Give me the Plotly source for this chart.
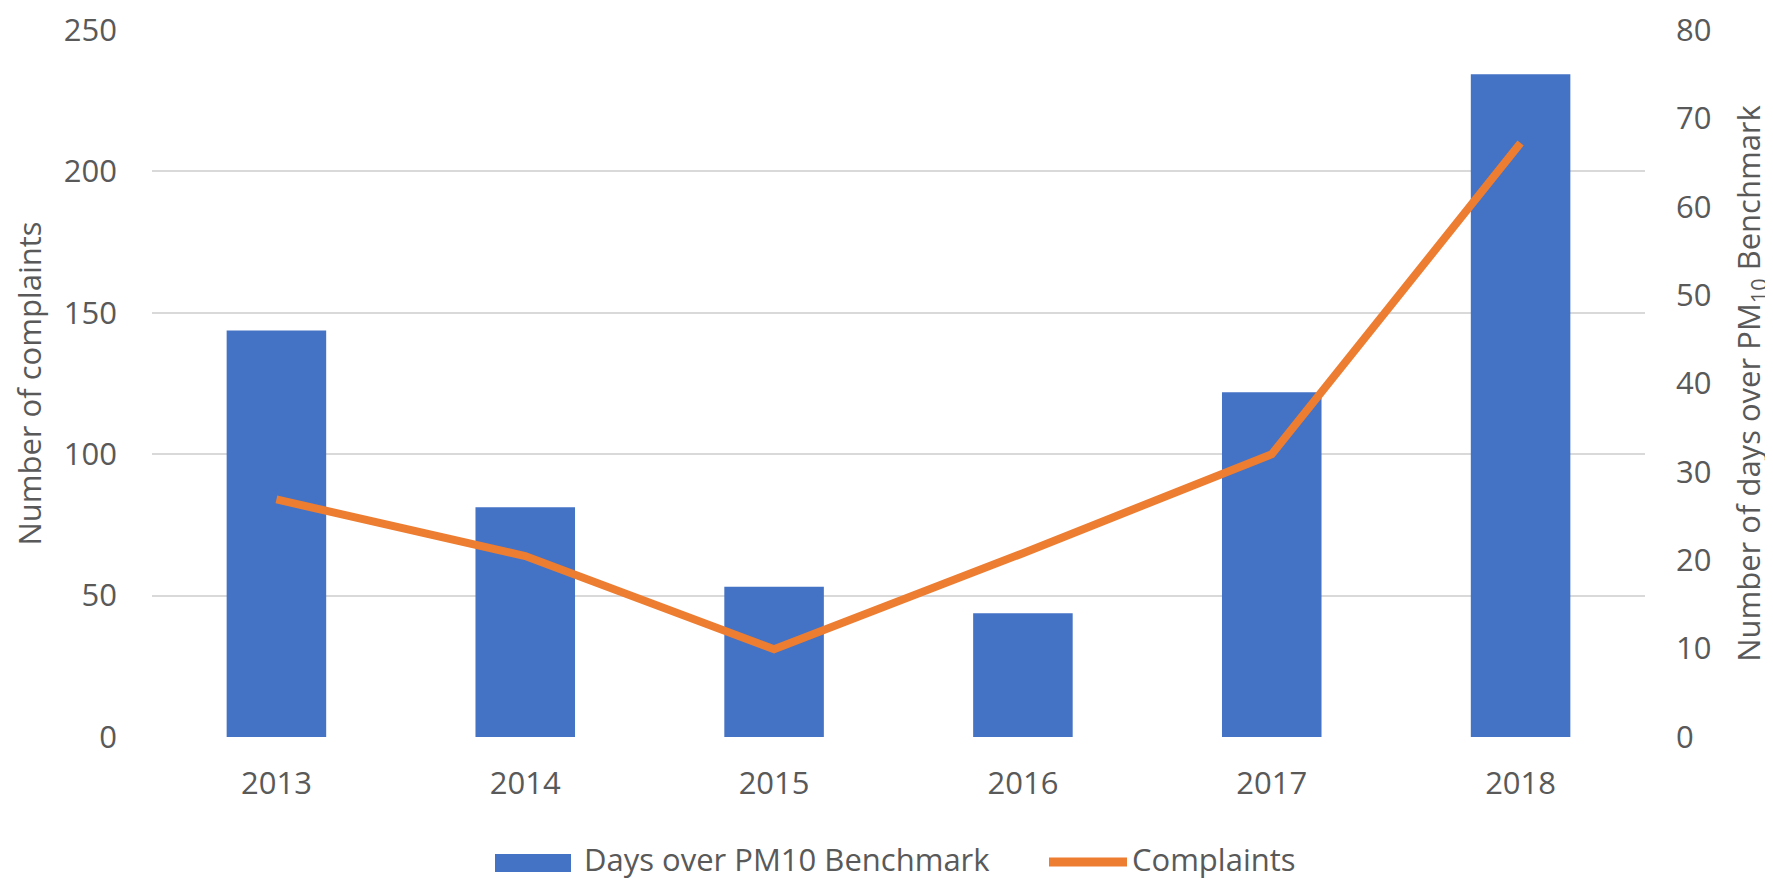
import plotly.graph_objects as go

years = ["2013", "2014", "2015", "2016", "2017", "2018"]
days_over_pm10 = [46, 26, 17, 14, 39, 75]
complaints = [84, 64, 31, 65, 100, 210]

left_ticks = [0, 50, 100, 150, 200, 250]
right_ticks = [0, 10, 20, 30, 40, 50, 60, 70, 80]

TXT = "#595959"
FONT = "Open Sans"
FS = 31
BLUE = "#4472C4"
ORANGE = "#ED7D31"

# the page body has an 8px margin, so the figure is sized to fill the rest
OFF = 8
W, H = 1773 - OFF, 881 - OFF
ML, MR, MT, MB = 152 - OFF, 128, 30 - OFF, 144
PW, PH = W - ML - MR, H - MT - MB


def px(xpage):
    return (xpage - OFF - ML) / PW


def py(ypage):
    return (H - MB - (ypage - OFF)) / PH


fig = go.Figure()
fig.add_trace(go.Bar(
    x=years, y=days_over_pm10, name="Days over PM10 Benchmark",
    marker=dict(color=BLUE, line=dict(width=0)),
    width=0.4, yaxis="y",
))
fig.add_trace(go.Scatter(
    x=years, y=complaints, name="Complaints", mode="lines",
    line=dict(color=ORANGE, width=8), yaxis="y2",
))

# legend drawn as shapes + text below the plot
shapes = [
    dict(type="rect", xref="paper", yref="paper",
         x0=px(495), x1=px(571), y0=py(872), y1=py(854),
         fillcolor=BLUE, line=dict(width=0), layer="above"),
    dict(type="line", xref="paper", yref="paper",
         x0=px(1049), x1=px(1127), y0=py(862), y1=py(862),
         line=dict(color=ORANGE, width=9), layer="above"),
]
annotations = [
    dict(text="Days over PM10 Benchmark", xref="paper", yref="paper",
         x=px(582), y=py(859), xanchor="left", yanchor="middle", showarrow=False,
         font=dict(family=FONT, size=FS, color=TXT)),
    dict(text="Complaints", xref="paper", yref="paper",
         x=px(1130), y=py(859), xanchor="left", yanchor="middle", showarrow=False,
         font=dict(family=FONT, size=FS, color=TXT)),
]

fig.update_layout(
    width=W, height=H,
    margin=dict(l=ML, r=MR, t=MT, b=MB, autoexpand=False),
    paper_bgcolor="white", plot_bgcolor="white",
    font=dict(family=FONT, size=FS, color=TXT),
    showlegend=False,
    shapes=shapes, annotations=annotations,
    xaxis=dict(
        type="category", showgrid=False, showline=False, ticks="",
        tickfont=dict(family=FONT, size=FS, color=TXT), ticklabelstandoff=25,
        zeroline=False,
    ),
    yaxis=dict(
        side="right", range=[0, 80], tickvals=right_ticks, showgrid=False,
        zeroline=False, showline=False, ticks="", ticklabeloverflow="allow",
        tickfont=dict(family=FONT, size=FS, color=TXT), ticklabelstandoff=30,
        title=dict(text="Number of days over PM<sub>10</sub> Benchmark",
                   font=dict(family=FONT, size=FS, color=TXT), standoff=31),
        automargin=True,
    ),
    yaxis2=dict(
        overlaying="y", side="left", range=[0, 250], tickvals=left_ticks,
        showgrid=True, gridcolor="#D9D9D9", gridwidth=2,
        zeroline=False, showline=False, ticks="", ticklabeloverflow="allow",
        tickfont=dict(family=FONT, size=FS, color=TXT), ticklabelstandoff=34,
        title=dict(text="Number of complaints",
                   font=dict(family=FONT, size=FS, color=TXT), standoff=16),
        automargin=True,
    ),
    bargap=0.6,
)

fig.write_html("out.html")
